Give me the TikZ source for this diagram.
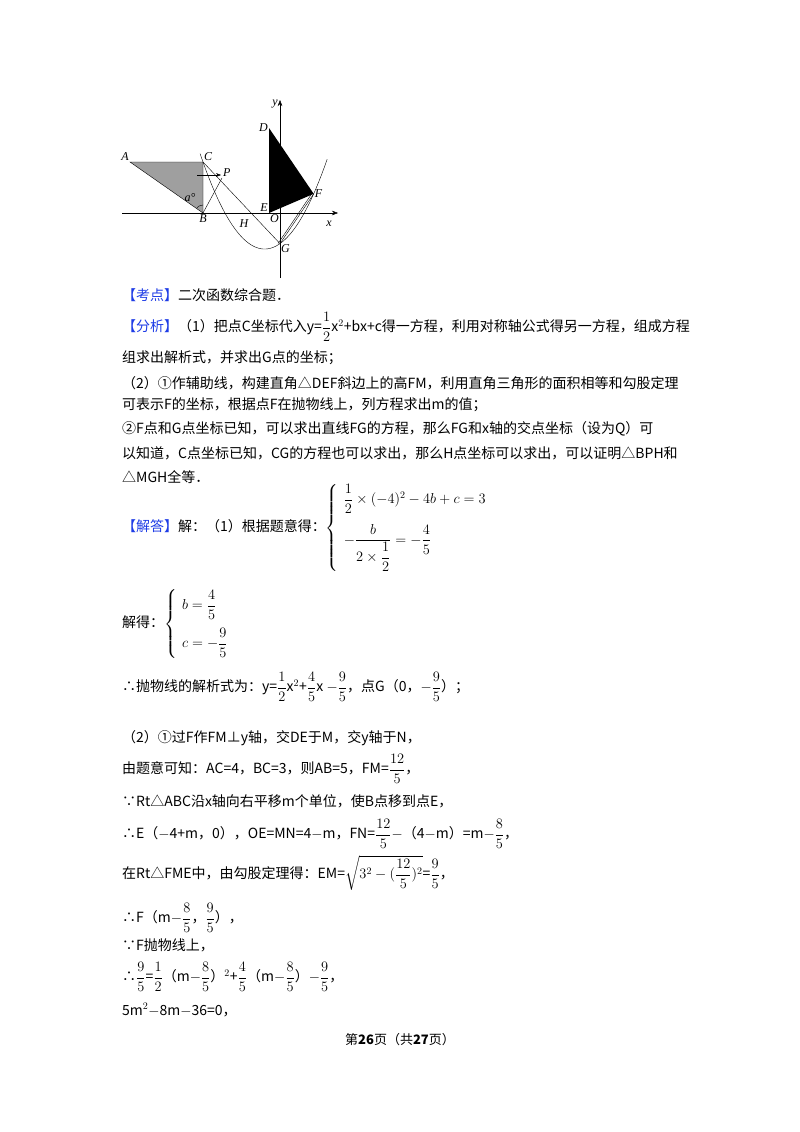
\documentclass[tikz,border=0pt]{standalone}
\usepackage{amsmath}
\usepackage{fontspec}
\setmainfont{Noto Sans CJK SC}
\newfontfamily\lblfont{Liberation Serif}
\usetikzlibrary{arrows.meta}
\definecolor{kblue}{RGB}{30,60,230}
\tikzset{txt/.style={anchor=west,inner sep=0pt,font=\fontsize{14}{16}\selectfont},
lbl/.style={inner sep=1pt,font=\fontsize{12}{13}\lblfont\itshape}}
\newcommand{\kd}[1]{{\color{kblue}【#1】}}
\begin{document}
\begin{tikzpicture}[x=1pt,y=-1pt]
\useasboundingbox[fill=white] (0,0) rectangle (800,1132);
% diagram
\coordinate (A) at (130,162); \coordinate (C) at (203,162); \coordinate (B) at (203,213);
\coordinate (D) at (269,128); \coordinate (E) at (269,213); \coordinate (F) at (313.7,193.8);
\coordinate (G) at (280,243.6); \coordinate (P) at (222,178); \coordinate (O) at (280,213);
\fill[gray!75] (A)--(B)--(C)--cycle; \draw (A)--(B)--(C)--cycle;
\fill[black] (D)--(E)--(F)--cycle;
\draw[-{Stealth[length=6pt]}] (122,213)--(338,213);
\draw[-{Stealth[length=6pt]}] (280,278)--(280,100);
\draw[domain=-4.15:2.45,samples=80,smooth] plot ({280+19.25*\x},{213-17*(0.5*\x*\x+0.8*\x-1.8)});
\draw (C)--(G); \draw (B)--(P);
\draw[-{Stealth[length=5pt]}] (197,175)--(221,175);
\draw (G)--(F); \draw ([xshift=-2pt]G)--([xshift=-2pt]F);
\draw (B)++(140:8pt) arc (140:90:8pt);
\node[lbl,anchor=south east] at (A) {A};
\node[lbl,anchor=south west] at (C) {C};
\node[lbl,anchor=north] at (B) {B};
\node[lbl,anchor=east] at (D) {D};
\node[lbl,anchor=south east] at (E) {E};
\node[lbl,anchor=west] at (F) {F};
\node[lbl,anchor=north west] at (G) {G};
\node[lbl,anchor=south west] at (P) {P};
\node[lbl,anchor=north east] at (O) {O};
\node[lbl] at (244,224) {H};
\node[lbl] at (329,224) {x};
\node[lbl] at (275,104) {y};
\node[lbl] at (190,198) {a°};
% text
\node[txt] (t1) at (122,295) {\kd{考点}二次函数综合题．};
\node[txt] (t2) at (122,327) {\kd{分析}（1）把点C坐标代入y=$\dfrac{1}{2}$x$^2$+bx+c得一方程，利用对称轴公式得另一方程，组成方程};
\node[txt] (t3) at (122,358) {组求出解析式，并求出G点的坐标；};
\node[txt] (t4) at (122,383) {（2）①作辅助线，构建直角△DEF斜边上的高FM，利用直角三角形的面积相等和勾股定理};
\node[txt] (t5) at (122,405) {可表示F的坐标，根据点F在抛物线上，列方程求出m的值；};
\node[txt] (t6) at (122,429) {②F点和G点坐标已知，可以求出直线FG的方程，那么FG和x轴的交点坐标（设为Q）可};
\node[txt] (t7) at (122,453) {以知道，C点坐标已知，CG的方程也可以求出，那么H点坐标可以求出，可以证明△BPH和};
\node[txt] (t8) at (122,477) {△MGH全等．};
\node[txt] (t9) at (122,528) {\kd{解答}解：（1）根据题意得：$\left\{\begin{array}{l}\dfrac12\times(-4)^2-4b+c=3\\[16pt] -\dfrac{b}{2\times\dfrac12}=-\dfrac45\end{array}\right.$};
\node[txt] (t10) at (122,624) {解得：$\left\{\begin{array}{l}b=\dfrac45\\[14pt] c=-\dfrac95\end{array}\right.$};
\node[txt] (t11) at (122,687) {∴抛物线的解析式为：y=$\dfrac12$x$^2$+$\dfrac45$x $-\dfrac95$，点G（0，$-\dfrac95$）；};
\node[txt] (t12) at (122,738) {（2）①过F作FM⊥y轴，交DE于M，交y轴于N，};
\node[txt] (t13) at (122,769) {由题意可知：AC=4，BC=3，则AB=5，FM=$\dfrac{12}{5}$，};
\node[txt] (t14) at (122,801) {∵Rt△ABC沿x轴向右平移m个单位，使B点移到点E，};
\node[txt] (t15) at (122,834) {∴E（$-$4+m，0），OE=MN=4$-$m，FN=$\dfrac{12}{5}$$-$（4$-$m）=m$-$$\dfrac85$，};
\node[txt] (t16) at (122,873) {在Rt△FME中，由勾股定理得：EM=$\sqrt{3^2-(\dfrac{12}{5})^2}$=$\dfrac95$，};
\node[txt] (t17) at (122,918) {∴F（m$-$$\dfrac85$，$\dfrac95$），};
\node[txt] (t18) at (122,945) {∵F抛物线上，};
\node[txt] (t19) at (122,977) {∴$\dfrac95$=$\dfrac12$（m$-$$\dfrac85$）$^2$+$\dfrac45$（m$-$$\dfrac85$）$-$$\dfrac95$，};
\node[txt] (t20) at (122,1010) {5m$^2$$-$8m$-$36=0，};
\node[inner sep=0pt,font=\fontsize{13}{15}\selectfont] (pg) at (400,1040) {第\textbf{26}页（共\textbf{27}页）};
\end{tikzpicture}
\end{document}
